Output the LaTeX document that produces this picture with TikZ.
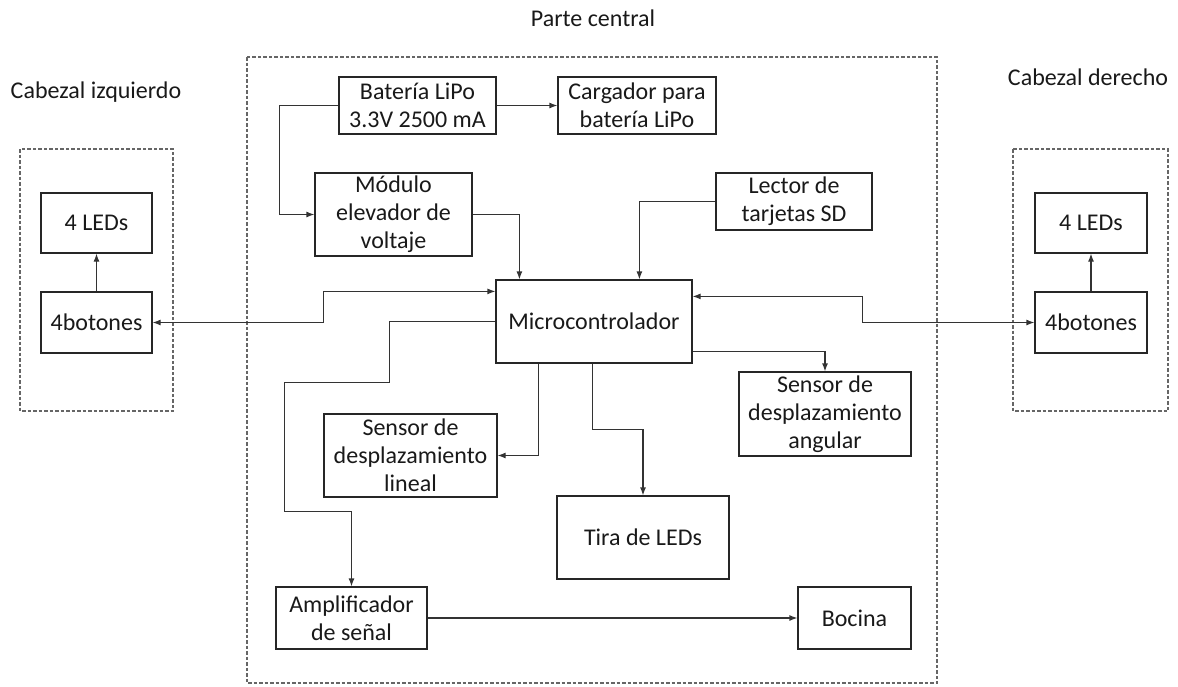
\documentclass[tikz,border=0pt]{standalone}
\usepackage{fontspec}
\setmainfont{Carlito}
\usetikzlibrary{arrows.meta}
\begin{document}
\begin{tikzpicture}[x=1pt,y=-1pt,
  blk/.style={draw=black!85,line width=1.2pt,rectangle,align=center,inner sep=0pt,
     font=\fontsize{24}{28}\selectfont,text=black!90},
  grp/.style={draw=black!60,line width=1.1pt,dash pattern=on 3.5pt off 2pt},
  ttl/.style={font=\fontsize{24}{28}\selectfont,text=black!90,inner sep=0pt},
  arr/.style={draw=black!80,line width=1.2pt,-{Latex[length=8pt,width=6pt]}},
  arr2/.style={draw=black!80,line width=1.2pt,{Latex[length=8pt,width=6pt]}-{Latex[length=8pt,width=6pt]}}]
\useasboundingbox (0,0) rectangle (1178,686);
% groups
\draw[grp] (20,149) rectangle (173,411);
\draw[grp] (247,57) rectangle (937,683);
\draw[grp] (1013,149) rectangle (1168,411);
\node[ttl] (tl) at (96,92) {Cabezal izquierdo};
\node[ttl] (tc) at (593,18) {Parte central};
\node[ttl] (tr) at (1088,77) {Cabezal derecho};
% boxes
\node[blk,minimum width=157pt,minimum height=57pt] (bat) at (417.5,105.5) {Batería LiPo\\3.3V 2500 mA};
\node[blk,minimum width=158pt,minimum height=57pt] (carg) at (637,105.5) {Cargador para\\batería LiPo};
\node[blk,minimum width=157pt,minimum height=83pt] (mod) at (393.5,214.5) {Módulo\\elevador de\\voltaje};
\node[blk,minimum width=156pt,minimum height=57pt] (lect) at (794,201.5) {Lector de\\tarjetas SD};
\node[blk,minimum width=196pt,minimum height=83pt] (micro) at (594,321.5) {Microcontrolador};
\node[blk,minimum width=173pt,minimum height=83pt] (lineal) at (410.5,455.5) {Sensor de\\desplazamiento\\lineal};
\node[blk,minimum width=172pt,minimum height=84pt] (angular) at (825,414) {Sensor de\\desplazamiento\\angular};
\node[blk,minimum width=172pt,minimum height=83pt] (tira) at (643,537.5) {Tira de LEDs};
\node[blk,minimum width=151pt,minimum height=62pt] (amp) at (351.5,618) {Amplificador\\de señal};
\node[blk,minimum width=113pt,minimum height=62pt] (boc) at (854.5,618) {Bocina};
\node[blk,minimum width=111pt,minimum height=60pt] (lleds) at (96.5,223) {4 LEDs};
\node[blk,minimum width=111pt,minimum height=61pt] (lbot) at (96.5,322.5) {4botones};
\node[blk,minimum width=112pt,minimum height=60pt] (rleds) at (1091,223) {4 LEDs};
\node[blk,minimum width=112pt,minimum height=61pt] (rbot) at (1091,322.5) {4botones};
% connectors
\draw[arr] (bat.west) -- ++(-59,0) |- (mod.west);
\draw[arr] (bat.east) -- (carg.west);
\draw[arr] (mod.east) -| ([xshift=24pt]micro.north west);
\draw[arr] (lect.west) -| ([xshift=144pt]micro.north west);
\draw[arr2] (lbot.east) -- ++(171,0) |- ([yshift=-12pt]micro.north west);
\draw[arr] (micro.west) -- ++(-106,0) -- ++(0,61) -- ++(-105,0) -- ++(0,129) -| (amp.north);
\draw[arr2] (rbot.west) -- ++(-172,0) |- ([yshift=-17pt]micro.north east);
\draw[arr] ([yshift=12pt]micro.south east) -| (angular.north);
\draw[arr] ([xshift=43pt]micro.south west) |- (lineal.east);
\draw[arr] ([xshift=97pt]micro.south west) -- ++(0,66) -| (tira.north);
\draw[arr] (amp.east) -- (boc.west);
\draw[arr] (lbot.north) -- (lleds.south);
\draw[arr] (rbot.north) -- (rleds.south);
\end{tikzpicture}
\end{document}
